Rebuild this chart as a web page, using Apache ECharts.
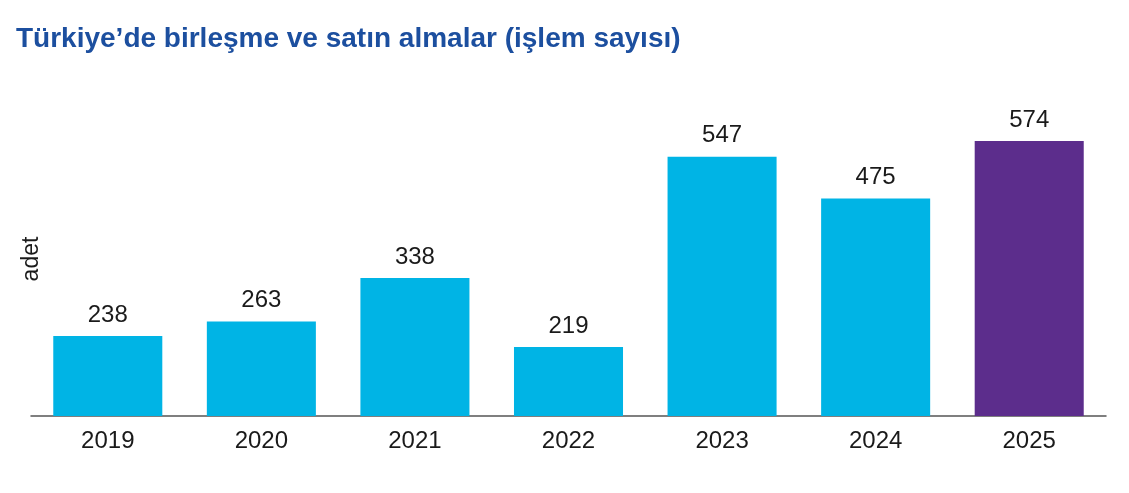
<!DOCTYPE html>
<html>
<head>
<meta charset="utf-8">
<script src="https://cdn.jsdelivr.net/npm/echarts@6/dist/echarts.min.js"></script>
<style>
html,body{margin:0;padding:0;background:#fff;}
#chart{width:1129px;height:493px;}
</style>
</head>
<body>
<div id="chart"></div>
<script>
const titleText = 'Türkiye’de birleşme ve satın almalar (işlem sayısı)';
const axisName = 'adet';
const categories = ['2019', '2020', '2021', '2022', '2023', '2024', '2025'];
const dealCounts = [238, 263, 338, 219, 547, 475, 574];
const highlightCategory = '2025';

const chart = echarts.init(document.getElementById('chart'));
chart.setOption({
  animation: false,
  title: {
    text: titleText,
    left: 11,
    top: 20,
    textStyle: {fontFamily: 'Liberation Sans', fontWeight: 'bold', fontSize: 28, color: '#1c4f9f'}
  },
  grid: {left: 31, right: 23, top: 126, bottom: 77},
  xAxis: {
    type: 'category',
    data: categories,
    axisLine: {show: true, lineStyle: {color: '#555', width: 1.5}},
    axisTick: {show: false},
    axisLabel: {margin: 13, fontFamily: 'Liberation Sans', fontSize: 24, color: '#1a1a1a'}
  },
  yAxis: {
    type: 'value',
    min: 100,
    max: 600,
    name: axisName,
    nameLocation: 'middle',
    nameRotate: 90,
    nameGap: -12,
    nameTextStyle: {fontFamily: 'Liberation Sans', fontSize: 23, color: '#1a1a1a', padding: [0, 0, 0, 24]},
    axisLine: {show: false},
    axisTick: {show: false},
    axisLabel: {show: false},
    splitLine: {show: false}
  },
  series: [{
    type: 'bar',
    barWidth: '71%',
    data: dealCounts.map((v, i) => ({
      value: v,
      itemStyle: {color: categories[i] === highlightCategory ? '#5c2d8c' : '#00b4e5'}
    })),
    label: {
      show: true,
      position: 'top',
      distance: 9,
      fontFamily: 'Liberation Sans',
      fontSize: 24,
      color: '#1a1a1a'
    }
  }]
});
</script>
</body>
</html>
